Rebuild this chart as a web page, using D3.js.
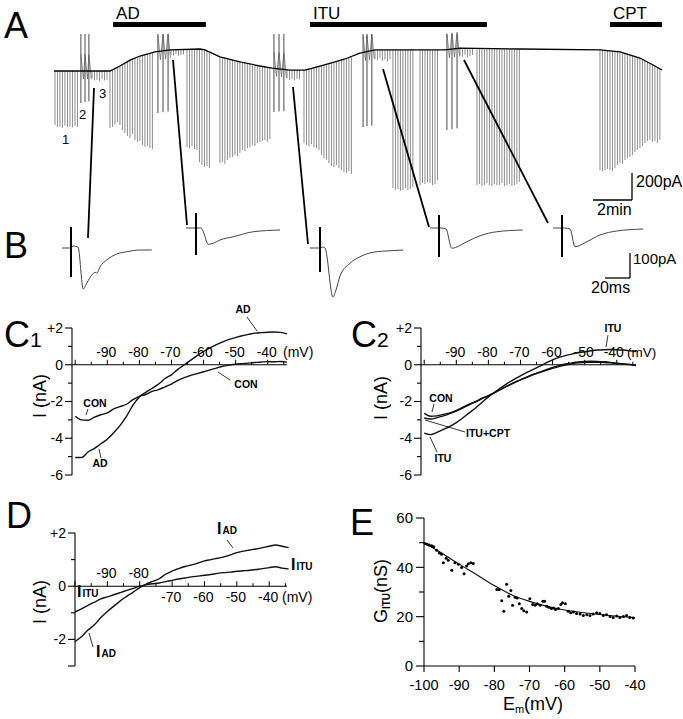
<!DOCTYPE html>
<html><head><meta charset="utf-8">
<script src="https://cdn.jsdelivr.net/npm/d3@7/dist/d3.min.js"></script>
<style>html,body{margin:0;padding:0;background:#fff}svg{display:block}text{-webkit-font-smoothing:antialiased}</style>
</head><body>
<svg id="fig" width="683" height="719"></svg>
<script>
// ================= DATA =================
// ---- Panel A: holding current (pA, relative) vs time (min) ----
const aBaseT = [0,2.87,3.38,3.9,4.41,5.18,5.95,7.49,7.74,8.51,9.54,10.56,11.18,12.1,12.87,13.64,14.41,14.92,15.69,16.46,20.05,20.82,23.9,28.0,29.03,30.05,30.82,31.18];
const aBaseI = [0,0,37,81,111,141,156,163,156,104,67,37,22,7,7,37,67,89,133,156,156,170,163,156,141,96,37,7];
const aSweepInterval = 0.128; // min between sweeps
const aSegStart = [0.05,1.95,2.87,6.0,6.82,8.51,11.95,12.82,16.46,17.38,18.77,20.82,21.69,28.0];
const aSegPeaks = [
  [-400,-415,-410,-420,-405,-415,-412,-418,-408,-415],
  [-55,-70,-65,-75,-60,-70,-65],
  [-422,-415,-393,-378,-400,-437,-459,-482,-496,-467,-511,-526,-519,-548,-563,-556,-571,-578],
  [120,115,125,112,118,122],
  [-563,-571,-556,-578,-585,-674,-697,-711,-704,-719],
  [-682,-674,-689,-659,-645,-637,-622,-630,-608,-585,-593,-571,-563,-548,-556,-534,-526,-519,-511,-526,-504],
  [-55,-65,-60,-70,-58,-62],
  [-534,-548,-556,-541,-563,-571,-585,-622,-645,-659,-682,-704,-711,-697,-719,-734,-748,-756,-741,-763],
  [90,80,95,75,85,70,88],
  [-867,-882,-874,-889,-882,-867,-882,-874,-860],
  [-845,-830,-837,-822,-830,-845,-837,-808],
  [115,105,120,100,110,118],
  [-845,-837,-852,-845,-830,-845,-852,-837,-845,-845,-830,-852,-845,-837,-852,-845,-837,-822],
  [-734,-741,-734,-726,-734,-741,-719,-697,-682,-689,-659,-645,-637,-622,-600,-585,-571,-556,-534,-519,-511,-526,-519,-534,-511]
];
const aSpikeT = [1.38,1.59,1.79,5.33,5.59,5.85,11.28,11.54,11.79,15.85,16.05,16.3,20.15,20.41,20.67];
const aSpikeHi = [274,274,274,274,274,274,274,274,274,274,274,274,274,274,274];
const aSpikeLo = [-237,-230,-225,-311,-305,-300,-304,-300,-296,-415,-410,-405,-437,-430,-425];
const drugNames = ["AD","ITU","CPT"];
const drugStart = [3.03,13.13,28.51];
const drugEnd = [7.79,22.2,31.18];
const sweepLabels = ["1","2","3"];

// ---- Panel B: averaged EPSCs (ms, pA) ----
const bTraceT = [
  [0,7.2,8.8,12.8,17,19.8,23.8,26.4,27.8,30.4,35.8,43.8,51.8,62.4,71.8],
  [0,8,12,13.8,17.8,21.8,27.2,37.8,53.8,75.2],
  [0,8,10,12,18.4,20.8,24,32,40,50.6,64,74.6],
  [0,7.2,8.8,12.8,17.4,29.4,40,53.4,74.2],
  [0,7,9,13.6,17.6,27,37.6,51,72.2]
];
const bTraceI = [
  [0,0,8,4,-164,-140,-108,-97,-101,-75,-48,-24,-15,-8,-8],
  [0,0,0,-15,-65,-61,-48,-35,-15,-8],
  [0,0,4,0,-196,-168,-112,-61,-35,-17,-11,-8],
  [0,0,0,-4,-81,-55,-31,-15,-8],
  [0,0,0,-4,-75,-55,-28,-12,-4]
];
const bArtT = [7.2,8,8,7.2,7.2];
const bArtHi = [84,60,84,52,52];
const bArtLo = [-116,-108,-96,-116,-116];

// ---- Panels C1, C2, D: I-V ramps (mV, nA) ----
const ivV = [-100,-98,-96,-94,-92,-90,-88,-86,-84,-82,-80,-78,-76,-74,-72,-70,-68,-66,-64,-62,-60,-58,-56,-54,-52,-50,-48,-46,-44,-42,-40,-38,-36,-34];
const c1Con = [-2.80,-3.00,-3.02,-2.85,-2.72,-2.62,-2.40,-2.28,-2.15,-1.90,-1.72,-1.62,-1.45,-1.35,-1.20,-1.05,-0.85,-0.70,-0.58,-0.48,-0.38,-0.28,-0.18,-0.08,-0.02,0.03,0.06,0.09,0.12,0.15,0.17,0.16,0.18,0.14];
const c1AD = [-5.05,-5.05,-4.75,-4.55,-4.30,-4.05,-3.70,-3.30,-2.80,-2.20,-1.75,-1.50,-1.28,-1.05,-0.75,-0.55,-0.25,0.00,0.25,0.50,0.72,0.92,1.10,1.25,1.38,1.48,1.58,1.65,1.72,1.75,1.77,1.78,1.76,1.68];
const c2Con = [-2.65,-2.80,-2.78,-2.70,-2.62,-2.48,-2.32,-2.15,-2.00,-1.82,-1.70,-1.52,-1.33,-1.15,-0.98,-0.82,-0.68,-0.53,-0.40,-0.27,-0.15,-0.05,0.04,0.10,0.15,0.18,0.19,0.18,0.16,0.13,0.09,0.05,0.02,-0.02];
const c2ItuCpt = [-2.90,-2.95,-2.88,-2.78,-2.66,-2.52,-2.36,-2.18,-2.02,-1.85,-1.68,-1.50,-1.32,-1.14,-0.97,-0.82,-0.67,-0.53,-0.42,-0.30,-0.20,-0.10,-0.02,0.05,0.10,0.12,0.14,0.13,0.12,0.10,0.07,0.04,0.01,-0.05];
const c2Itu = [-3.72,-3.80,-3.68,-3.52,-3.35,-3.15,-2.90,-2.62,-2.35,-2.05,-1.75,-1.48,-1.24,-1.00,-0.80,-0.60,-0.42,-0.25,-0.08,0.10,0.27,0.40,0.50,0.58,0.65,0.71,0.76,0.80,0.82,0.83,0.82,0.80,0.76,0.72];
const dIAD = [-2.08,-1.90,-1.65,-1.45,-1.18,-0.95,-0.75,-0.55,-0.38,-0.22,-0.05,0.08,0.18,0.28,0.45,0.57,0.66,0.74,0.80,0.87,0.95,1.00,1.05,1.10,1.18,1.26,1.32,1.36,1.40,1.45,1.50,1.55,1.50,1.45];
const dIITU = [-0.97,-0.85,-0.72,-0.60,-0.48,-0.40,-0.32,-0.24,-0.16,-0.08,0.00,0.06,0.09,0.12,0.17,0.22,0.27,0.31,0.35,0.38,0.41,0.44,0.48,0.51,0.53,0.56,0.58,0.60,0.63,0.66,0.70,0.73,0.68,0.65];
const ivTickLabels = ["-90","-80","-70","-60","-50","-40"];

// ---- Panel E: conductance (nS) vs Em (mV) ----
const eFitV = [-100,-95,-90,-85,-80,-75,-70,-65,-60,-55,-50,-45,-40];
const eFitG = [50.0,45.8,41.3,37.0,32.6,28.8,26.2,24.2,22.7,21.7,20.9,20.2,19.6];
const eDotV = [-99.7,-99.1,-98.5,-97.8,-97.2,-96.4,-95.6,-95.0,-94.5,-93.7,-93.1,-92.1,-91.2,-90.2,-89.3,-88.6,-87.9,-87.4,-86.7,-86.0,-79.3,-78.6,-77.9,-77.3,-76.5,-75.9,-75.3,-74.8,-74.1,-73.5,-72.9,-72.2,-71.6,-70.8,-69.9,-69.1,-68.4,-67.8,-67.0,-66.2,-65.7,-65.1,-64.5,-63.8,-63.2,-62.6,-61.8,-61.1,-60.6,-59.8,-59.0,-58.3,-57.5,-56.6,-55.6,-54.7,-53.7,-52.8,-51.9,-50.9,-50.0,-49.0,-48.1,-47.1,-46.2,-45.2,-44.3,-43.3,-42.4,-41.5,-40.5];
const eDotG = [49.7,49.4,49.1,48.7,48.3,46.9,45.8,45.3,41.9,43.7,42.9,38.8,41.9,41.2,39.9,37.4,40.5,41.5,41.9,41.6,31.0,31.0,26.5,22.2,33.1,28.3,30.6,24.6,27.9,27.6,25.2,23.3,22.4,21.9,27.3,24.9,24.6,25.2,24.6,26.2,26.2,24.2,23.8,23.3,23.5,22.9,23.3,24.9,25.6,25.2,22.2,21.6,21.9,21.3,21.1,20.5,20.8,20.5,21.1,21.6,21.3,20.5,20.8,20.1,19.7,20.3,19.7,20.1,20.5,19.7,19.5];
const eXTicks = [-100,-90,-80,-70,-60,-50,-40];
const eYTicks = [0,20,40,60];

// ================= DRAWING =================
const FONT = "'Liberation Sans', Arial, Helvetica, sans-serif";
const svg = d3.select("#fig").attr("font-family", FONT);

function txt(g, s, x, y, size, opts = {}) {
  const t = g.append("text").attr("x", x).attr("y", y).attr("font-size", size).attr("fill", "#000").text(s);
  if (opts.anchor) t.attr("text-anchor", opts.anchor);
  if (opts.bold) t.attr("font-weight", "bold");
  if (opts.dy) t.attr("dy", opts.dy);
  return t;
}
function seg(g, x1, y1, x2, y2, w = 1, col = "#000") {
  g.append("line").attr("x1", x1).attr("y1", y1).attr("x2", x2).attr("y2", y2)
    .attr("stroke", col).attr("stroke-width", w);
}

// ---------- Panel A ----------
const gA = svg.append("g");
const xA = d3.scaleLinear().domain([0, 31.18]).range([54, 662]);
const yA = d3.scaleLinear().domain([0, 200]).range([71, 44]);
const baseAt = d3.scaleLinear().domain(aBaseT).range(aBaseI);

txt(gA, "A", 4, 38, 36);
drugNames.forEach((n, i) => {
  gA.append("rect").attr("x", xA(drugStart[i])).attr("y", 22)
    .attr("width", xA(drugEnd[i]) - xA(drugStart[i])).attr("height", 5).attr("fill", "#000");
  txt(gA, n, xA(drugStart[i]) + 3, 19, 17);
});

aSegStart.forEach((t0, s) => {
  aSegPeaks[s].forEach((p, i) => {
    const t = t0 + i * aSweepInterval;
    seg(gA, xA(t), yA(baseAt(t)), xA(t), yA(p), 0.75, "#666");
  });
});
aSpikeT.forEach((t, i) => {
  seg(gA, xA(t), yA(aSpikeHi[i]), xA(t), yA(aSpikeLo[i]), 0.9, "#333");
});
// zigzag between ramp artifacts
for (let g = 0; g < aSpikeT.length; g += 3) {
  const pts = [];
  for (let k = 0; k < 3; k++) {
    const t = aSpikeT[g + k];
    pts.push([xA(t), yA(baseAt(t) + 120)]);
    pts.push([xA(t) + 2.5, yA(baseAt(t) - 60)]);
  }
  gA.append("path").attr("d", d3.line()(pts)).attr("fill", "none").attr("stroke", "#555").attr("stroke-width", 0.7);
}
gA.append("path")
  .attr("d", d3.line().x(d => xA(d[0])).y(d => yA(d[1]))(aBaseT.map((t, i) => [t, aBaseI[i]])))
  .attr("fill", "none").attr("stroke", "#000").attr("stroke-width", 1.3);

txt(gA, sweepLabels[0], 62, 144, 13);
txt(gA, sweepLabels[1], 79, 119, 13);
txt(gA, sweepLabels[2], 99, 98, 13);

// scale bar A
const sbx = 632, sby = 200;
seg(gA, sbx, sby, sbx, sby - (yA(0) - yA(200)), 1.3);
seg(gA, sbx - (xA(2) - xA(0)), sby, sbx, sby, 1.3);
txt(gA, "200pA", 636, 187, 16);
txt(gA, "2min", 597, 215, 16);

// connectors A -> B
[[94,88,88,238],[173,60,187,225],[293,87,308,244],[383,69,429,227],[464,60,548,223]]
  .forEach(c => seg(gA, c[0], c[1], c[2], c[3], 1.8));

// ---------- Panel B ----------
const gB = svg.append("g");
txt(gB, "B", 4, 258, 36);
const xB = d3.scaleLinear().domain([0, 20]).range([0, 25]);
const yB = d3.scaleLinear().domain([0, 100]).range([0, -25]);
const bOrigin = [[62,248],[186,228],[310,248],[430,228],[553,228]];
bTraceT.forEach((ts, k) => {
  const g = gB.append("g").attr("transform", `translate(${bOrigin[k][0]},${bOrigin[k][1]})`);
  g.append("path")
    .attr("d", d3.line().curve(d3.curveMonotoneX).x(d => xB(d[0])).y(d => yB(d[1]))(ts.map((t, i) => [t, bTraceI[k][i]])))
    .attr("fill", "none").attr("stroke", "#444").attr("stroke-width", 1);
  seg(g, xB(bArtT[k]), yB(bArtHi[k]), xB(bArtT[k]), yB(bArtLo[k]), 2);
});
// scale bar B
const sb2x = 630, sb2y = 278;
seg(gB, sb2x, sb2y, sb2x, sb2y - (yB(0) - yB(100)), 1.3);
seg(gB, sb2x - (xB(20) - xB(0)), sb2y, sb2x, sb2y, 1.3);
txt(gB, "100pA", 633, 264, 15);
txt(gB, "20ms", 591, 293, 16);

// ---------- I-V panels ----------
function ivPanel(cfg) {
  const g = svg.append("g");
  const x = d3.scaleLinear().domain(cfg.xd).range(cfg.xr);
  const y = d3.scaleLinear().domain(cfg.yd).range(cfg.yr);
  const x0 = cfg.xr[0];
  seg(g, x0, y(cfg.yd[1]), x0, y(cfg.yd[0]), 1.1);
  for (let v = cfg.yd[0]; v <= cfg.yd[1]; v++) {
    const major = cfg.yMajor.includes(v);
    seg(g, x0 - (major ? 7 : 4), y(v), x0, y(v), 1.1);
  }
  cfg.yLabels.forEach(v => txt(g, (v > 0 ? "+" : "") + v, x0 - 9, y(v), 14, {anchor: "end", dy: "0.35em"}));
  seg(g, x0, y(0), cfg.xr[1], y(0), 1.1);
  for (let v = -100; v <= -35; v += 5) {
    if (x(v) < x0) continue;
    const major = v % 10 === 0;
    const len = major ? 5 : 3;
    seg(g, x(v), y(0), x(v), y(0) - len, 1);
  }
  ivTickLabels.forEach(s => {
    const v = +s;
    const below = cfg.below && cfg.below.includes(v);
    const dx = (v === -40 && cfg.shift40) ? cfg.shift40 : 0;
    txt(g, s, x(v) - 1 + dx, below ? y(0) + 16 : y(0) - 8, 14, {anchor: "middle"});
  });
  txt(g, "(mV)", cfg.mvX, cfg.mvY, cfg.mvSize || 14);
  g.append("text").attr("transform", `translate(${cfg.ylx},${cfg.yly}) rotate(-90)`)
    .attr("text-anchor", "middle").attr("font-size", 18).text("I (nA)");
  const pl = g.append("text").attr("x", cfg.lx).attr("y", cfg.ly).attr("font-size", 36);
  pl.append("tspan").text(cfg.label);
  if (cfg.sub) pl.append("tspan").attr("font-size", 21).text(cfg.sub);
  cfg.curves.forEach(c => {
    g.append("path")
      .attr("d", d3.line().curve(d3.curveMonotoneX).x(d => x(d[0])).y(d => y(d[1]))(ivV.map((v, i) => [v, c[i]])))
      .attr("fill", "none").attr("stroke", "#111").attr("stroke-width", 1.4);
  });
  return {g, x, y};
}

function ann(g, s, tx, ty, anchor, line) {
  txt(g, s, tx, ty, 10.5, {anchor: anchor, bold: true});
  if (line) seg(g, line[0], line[1], line[2], line[3], 0.8);
}
function subLabel(g, main, sub, tx, ty) {
  const t = g.append("text").attr("x", tx).attr("y", ty).attr("font-weight", "bold");
  t.append("tspan").attr("font-size", 16).text(main);
  t.append("tspan").attr("font-size", 10).attr("dx", 1).text(sub);
}

// C1
const c1 = ivPanel({xd: [-101, -34], xr: [72, 287], yd: [-6, 2], yr: [475, 328],
  yMajor: [-6, -4, -2, 0, 2], yLabels: [2, 0, -2, -4, -6], mvX: 283, mvY: 357,
  ylx: 46, yly: 396, lx: 4, ly: 347, label: "C", sub: "1", curves: [c1Con, c1AD]});
ann(c1.g, "AD", 243, 313, "middle", [247, 317, 257, 331]);
ann(c1.g, "CON", 246, 388, "middle", [218, 372, 230, 380]);
ann(c1.g, "CON", 95, 407, "middle", [88, 409, 86, 415]);
ann(c1.g, "AD", 100, 467, "middle", [99, 449, 101, 458]);

// C2
const c2 = ivPanel({xd: [-101, -34], xr: [421, 636], yd: [-6, 2], yr: [475, 328],
  yMajor: [-6, -4, -2, 0, 2], yLabels: [2, 0, -2, -4, -6], mvX: 627, mvY: 357, mvSize: 13.5, shift40: -2,
  ylx: 387, yly: 398, lx: 351, ly: 347, label: "C", sub: "2", curves: [c2Con, c2ItuCpt, c2Itu]});
ann(c2.g, "ITU", 613, 332, "middle", [608, 335, 606, 347]);
ann(c2.g, "CON", 441, 402, "middle", [434, 404, 432, 412]);
ann(c2.g, "ITU+CPT", 466, 437, "start", [425, 420, 465, 432]);
ann(c2.g, "ITU", 443, 462, "middle", [430, 437, 437, 452]);

// D
const dP = ivPanel({xd: [-100, -34.5], xr: [75, 287], yd: [-3, 2], yr: [666, 533],
  yMajor: [-3, -2, 0, 2], yLabels: [2, 0, -2], mvX: 282, mvY: 602, below: [-70, -60, -50, -40],
  ylx: 46, yly: 602, lx: 6, ly: 528, label: "D", curves: [dIAD, dIITU]});
subLabel(dP.g, "I", "AD", 217, 534);
seg(dP.g, 227, 540, 233, 548, 0.8);
subLabel(dP.g, "I", "ITU", 291, 570);
subLabel(dP.g, "I", "ITU", 77, 597);
subLabel(dP.g, "I", "AD", 96, 657);
seg(dP.g, 89, 633, 93, 647, 0.8);

// ---------- Panel E ----------
const gE = svg.append("g");
const xE = d3.scaleLinear().domain([-100, -40]).range([424, 635]);
const yE = d3.scaleLinear().domain([0, 60]).range([666, 518]);
txt(gE, "E", 350, 535, 36);
seg(gE, xE(-100), yE(0), xE(-100), yE(60), 1.1);
seg(gE, xE(-100), yE(0), xE(-40), yE(0), 1.1);
for (let v = 0; v <= 60; v += 10) {
  const major = v % 20 === 0;
  seg(gE, xE(-100) - (major ? 8 : 5), yE(v), xE(-100), yE(v), 1.1);
}
eYTicks.forEach(v => txt(gE, String(v), xE(-100) - 11, yE(v), 15, {anchor: "end", dy: "0.35em"}));
eXTicks.forEach(v => {
  seg(gE, xE(v), yE(0), xE(v), yE(0) + 6, 1.1);
  txt(gE, String(v), xE(v), 690, 14.5, {anchor: "middle"});
});
const ex = gE.append("text").attr("x", 533).attr("y", 710).attr("text-anchor", "middle");
ex.append("tspan").attr("font-size", 18).text("E");
ex.append("tspan").attr("font-size", 11).attr("dy", 3).text("m");
ex.append("tspan").attr("font-size", 18).attr("dy", -3).text("(mV)");
const ey = gE.append("text").attr("transform", "translate(387,591) rotate(-90)").attr("text-anchor", "middle");
ey.append("tspan").attr("font-size", 18).text("G");
ey.append("tspan").attr("font-size", 10).attr("font-weight", "bold").attr("dy", 3).text("ITU");
ey.append("tspan").attr("font-size", 18).attr("dy", -3).text("(nS)");
gE.append("path")
  .attr("d", d3.line().curve(d3.curveMonotoneX).x(d => xE(d[0])).y(d => yE(d[1]))(eFitV.map((v, i) => [v, eFitG[i]])))
  .attr("fill", "none").attr("stroke", "#111").attr("stroke-width", 1.1);
gE.selectAll("circle.dot").data(eDotV.map((v, i) => [v, eDotG[i]])).join("circle")
  .attr("class", "dot").attr("cx", d => xE(d[0])).attr("cy", d => yE(d[1])).attr("r", 1.5).attr("fill", "#000");
</script>
</body></html>
